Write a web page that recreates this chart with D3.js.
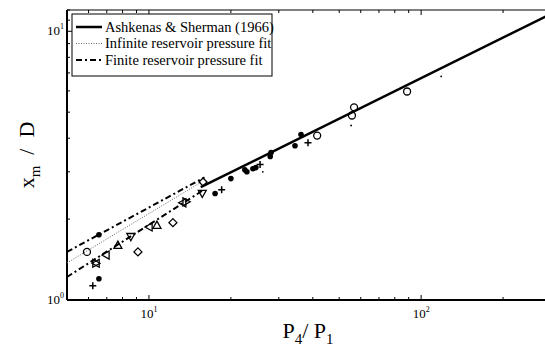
<!DOCTYPE html>
<html>
<head>
<meta charset="utf-8">
<script src="https://cdn.jsdelivr.net/npm/d3@7"></script>
<style>
  body { margin: 0; background: #fff; }
  svg { font-family: "Liberation Serif", "DejaVu Serif", serif; }
  text { fill: black; }
</style>
</head>
<body>
<svg id="svg1" width="545" height="348"></svg>
<script>
// data: [P4/P1, xm/D]
var ashkenas = [[15.5, 2.63], [300, 11.6]];
var infiniteFit = [[5, 1.374], [15.5, 2.74]];
var finiteFitUpper = [[5, 1.51], [16, 2.86]];
var finiteFitLower = [[5, 1.218], [16, 2.58]];

var circles = [[5.92, 1.51], [41.5, 4.09], [56.7, 5.21], [55.7, 4.86], [88.8, 5.97]];
var stars = [[6.55, 1.75], [6.55, 1.20], [17.5, 2.49], [20.0, 2.83], [22.5, 3.05], [22.9, 3.00],
             [24.1, 3.08], [24.7, 3.11], [27.9, 3.42], [28.1, 3.54], [34.4, 3.75], [36.2, 4.13]];
var pluses = [[6.22, 1.13], [18.5, 2.57], [25.6, 3.19], [38.4, 3.85]];
var dots = [[26.2, 3.00], [55.3, 4.46], [118.5, 6.79]];
var triUp = [[7.69, 1.60], [10.7, 1.90]];
var triDown = [[8.58, 1.72], [15.7, 2.49]];
var triLeft = [[6.95, 1.47], [10.0, 1.87], [13.3, 2.30], [6.39, 1.37]];
var triRight = [[6.39, 1.37], [13.7, 2.32]];
var diamonds = [[9.11, 1.51], [12.25, 1.94], [15.8, 2.75]];

var xTicks = [10, 100];
var yTicks = [1, 10];
var legendNames = ['Ashkenas & Sherman (1966)', 'Infinite reservoir pressure fit', 'Finite reservoir pressure fit'];

var plotLeft = 67, plotRight = 551, plotTop = 10, plotBottom = 300;

var svg = d3.select('svg');

var x = d3.scaleLog().domain([5, 300]).range([plotLeft, plotRight]);
var y = d3.scaleLog().domain([1, 12]).range([plotBottom, plotTop]);

// minor ticks
var xMinor = [];
[1, 10, 100].forEach(function(d){ for (var k = 1; k < 10; k++) { var v = d * k; if (v >= 5 && v <= 300) xMinor.push(v); } });
var yMinor = [];
for (var k = 1; k <= 12; k++) yMinor.push(k);

var ticks = svg.append('g').attr('stroke', 'black').attr('stroke-width', 1);
xMinor.forEach(function(v){
    var len = xTicks.indexOf(v) >= 0 ? 5 : 3;
    ticks.append('line').attr('x1', x(v)).attr('x2', x(v)).attr('y1', plotBottom).attr('y2', plotBottom - len);
    ticks.append('line').attr('x1', x(v)).attr('x2', x(v)).attr('y1', plotTop).attr('y2', plotTop + len);
});
yMinor.forEach(function(v){
    var len = yTicks.indexOf(v) >= 0 ? 5 : 3;
    ticks.append('line').attr('x1', plotLeft).attr('x2', plotLeft + len).attr('y1', y(v)).attr('y2', y(v));
});

// frame
svg.append('line').attr('x1', plotLeft).attr('x2', plotRight).attr('y1', plotTop).attr('y2', plotTop)
    .attr('stroke', 'black').attr('stroke-width', 1);
svg.append('line').attr('x1', plotLeft).attr('x2', plotRight).attr('y1', plotBottom).attr('y2', plotBottom)
    .attr('stroke', 'black').attr('stroke-width', 2);
svg.append('line').attr('x1', plotLeft).attr('x2', plotLeft).attr('y1', plotTop).attr('y2', plotBottom)
    .attr('stroke', 'black').attr('stroke-width', 2);

// tick labels
xTicks.forEach(function(v){
    var t = svg.append('text').attr('x', x(v)).attr('y', 318).attr('text-anchor', 'middle')
        .attr('font-size', 13);
    t.append('tspan').text('10');
    t.append('tspan').attr('dy', -6).attr('font-size', 8).text(Math.round(Math.log10(v)));
});
yTicks.forEach(function(v){
    var t = svg.append('text').attr('x', plotLeft - 3).attr('y', y(v) + 4).attr('text-anchor', 'end')
        .attr('font-size', 13);
    t.append('tspan').text('10');
    t.append('tspan').attr('dy', -6).attr('font-size', 8).text(Math.round(Math.log10(v)));
});

// axis labels
var xl = svg.append('text').attr('x', 308).attr('y', 338).attr('text-anchor', 'middle').attr('font-size', 22);
xl.append('tspan').text('P');
xl.append('tspan').attr('dy', 6).attr('font-size', 15).text('4');
xl.append('tspan').attr('dy', -6).text('/ P');
xl.append('tspan').attr('dy', 6).attr('font-size', 15).text('1');

var yl = svg.append('text').attr('transform', 'translate(34,155) rotate(-90)')
    .attr('text-anchor', 'middle').attr('font-size', 22).attr('xml:space', 'preserve');
yl.append('tspan').text('x');
yl.append('tspan').attr('dy', 6).attr('font-size', 15).text('m');
yl.append('tspan').attr('dy', -6).text('  /  D');

// lines
var line = d3.line().x(function(d){ return x(d[0]); }).y(function(d){ return y(d[1]); });
var plot = svg.append('g');
plot.append('path').attr('d', line(infiniteFit)).attr('fill', 'none')
    .attr('stroke', '#666').attr('stroke-width', 1).attr('stroke-dasharray', '1,1.5');
plot.append('path').attr('d', line(finiteFitUpper)).attr('fill', 'none')
    .attr('stroke', 'black').attr('stroke-width', 2).attr('stroke-dasharray', '6,3,2,3');
plot.append('path').attr('d', line(finiteFitLower)).attr('fill', 'none')
    .attr('stroke', 'black').attr('stroke-width', 2).attr('stroke-dasharray', '6,3,2,3');
plot.append('path').attr('d', line(ashkenas)).attr('fill', 'none')
    .attr('stroke', 'black').attr('stroke-width', 2.5);

// markers
function tri(cx, cy, s, dir) {
    var p;
    if (dir === 'up') p = [[0, -s], [s, s * 0.8], [-s, s * 0.8]];
    if (dir === 'down') p = [[0, s], [s, -s * 0.8], [-s, -s * 0.8]];
    if (dir === 'left') p = [[-s, 0], [s * 0.8, -s], [s * 0.8, s]];
    if (dir === 'right') p = [[s, 0], [-s * 0.8, -s], [-s * 0.8, s]];
    return 'M' + p.map(function(q){ return (cx + q[0]) + ',' + (cy + q[1]); }).join('L') + 'Z';
}
function diam(cx, cy, s) {
    return 'M' + cx + ',' + (cy - s) + 'L' + (cx + s) + ',' + cy + 'L' + cx + ',' + (cy + s) + 'L' + (cx - s) + ',' + cy + 'Z';
}

plot.append('g').selectAll('circle').data(circles).enter().append('circle')
    .attr('cx', function(d){ return x(d[0]); }).attr('cy', function(d){ return y(d[1]); })
    .attr('r', 3.5).attr('fill', 'none').attr('stroke', 'black').attr('stroke-width', 1.3);
plot.append('g').selectAll('circle').data(stars).enter().append('circle')
    .attr('cx', function(d){ return x(d[0]); }).attr('cy', function(d){ return y(d[1]); })
    .attr('r', 2.8).attr('fill', 'black');
plot.append('g').selectAll('circle').data(dots).enter().append('circle')
    .attr('cx', function(d){ return x(d[0]); }).attr('cy', function(d){ return y(d[1]); })
    .attr('r', 0.9).attr('fill', 'black');
plot.append('g').selectAll('path').data(pluses).enter().append('path')
    .attr('d', function(d){ var cx = x(d[0]), cy = y(d[1]);
        return 'M' + (cx - 3.5) + ',' + cy + 'H' + (cx + 3.5) + 'M' + cx + ',' + (cy - 3.5) + 'V' + (cy + 3.5); })
    .attr('stroke', 'black').attr('stroke-width', 1.5);

[[triUp, 'up'], [triDown, 'down'], [triLeft, 'left'], [triRight, 'right']].forEach(function(g){
    plot.append('g').selectAll('path').data(g[0]).enter().append('path')
        .attr('d', function(d){ return tri(x(d[0]), y(d[1]), 4, g[1]); })
        .attr('fill', 'none').attr('stroke', 'black').attr('stroke-width', 1.3);
});
plot.append('g').selectAll('path').data(diamonds).enter().append('path')
    .attr('d', function(d){ return diam(x(d[0]), y(d[1]), 4); })
    .attr('fill', 'none').attr('stroke', 'black').attr('stroke-width', 1.3);

// legend
var lg = svg.append('g');
lg.append('rect').attr('x', 72).attr('y', 14).attr('width', 200).attr('height', 62)
    .attr('fill', 'white').attr('stroke', 'black').attr('stroke-width', 1);
var styles = [
    {stroke: 'black', w: 2.5, dash: null},
    {stroke: '#666', w: 1, dash: '1,1.5'},
    {stroke: 'black', w: 2, dash: '6,3,2,3'}
];
legendNames.forEach(function(name, i){
    var yy = 27 + i * 16.5;
    lg.append('line').attr('x1', 76).attr('x2', 102).attr('y1', yy).attr('y2', yy)
        .attr('stroke', styles[i].stroke).attr('stroke-width', styles[i].w)
        .attr('stroke-dasharray', styles[i].dash);
    lg.append('text').attr('x', 105).attr('y', yy + 4.5).attr('font-size', 14.5).text(name);
});
</script>
</body>
</html>
